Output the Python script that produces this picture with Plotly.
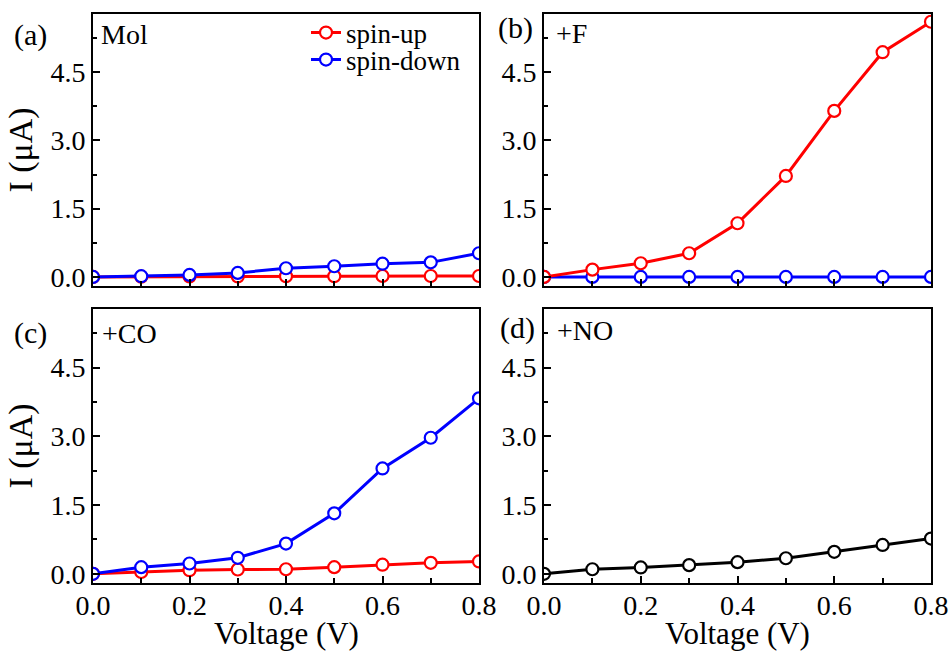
import plotly.graph_objects as go
from plotly.subplots import make_subplots

voltage = [0.0, 0.1, 0.2, 0.3, 0.4, 0.5, 0.6, 0.7, 0.8]

mol_up = [0.0, 0.005, 0.01, 0.01, 0.015, 0.015, 0.02, 0.02, 0.02]
mol_down = [0.0, 0.015, 0.044, 0.088, 0.19, 0.234, 0.29, 0.32, 0.52]

f_up = [0.0, 0.16, 0.30, 0.52, 1.18, 2.22, 3.65, 4.94, 5.61]
f_down = [0.0, 0.0, 0.0, 0.0, 0.0, 0.0, 0.0, 0.0, 0.0]

co_up = [0.0, 0.04, 0.08, 0.095, 0.10, 0.146, 0.20, 0.24, 0.27]
co_down = [0.0, 0.146, 0.226, 0.35, 0.66, 1.32, 2.30, 2.97, 3.83]

no_total = [0.0, 0.10, 0.14, 0.19, 0.255, 0.34, 0.48, 0.63, 0.77]

panel_letters = ["(a)", "(b)", "(c)", "(d)"]
panel_names = ["Mol", "+F", "+CO", "+NO"]
y_ticks = [0.0, 1.5, 3.0, 4.5]
x_ticks = [0.0, 0.2, 0.4, 0.6, 0.8]
x_title = "Voltage (V)"
y_title = "I (μA)"

RED = "#FF0000"
BLUE = "#0000FF"
BLACK = "#000000"
FONT = "Liberation Serif"

fig = make_subplots(rows=2, cols=2)

def add(row, col, y, color, name, show, legend="legend"):
    fig.add_trace(
        go.Scatter(
            x=voltage, y=y, mode="lines+markers", name=name,
            line=dict(color=color, width=3),
            marker=dict(symbol="circle", size=12, color="white",
                        line=dict(color=color, width=2.2)),
            showlegend=show, legendgroup=name, legend=legend,
        ),
        row=row, col=col,
    )

add(1, 1, mol_up, RED, "spin-up", True, "legend")
add(1, 1, mol_down, BLUE, "spin-down", True, "legend2")
add(1, 2, f_down, BLUE, "spin-down", False)
add(1, 2, f_up, RED, "spin-up", False)
add(2, 1, co_up, RED, "spin-up", False)
add(2, 1, co_down, BLUE, "spin-down", False)
add(2, 2, no_total, BLACK, "total", False)

W, H = 950, 653
xdom = [[93 / W, 479 / W], [544 / W, 931 / W]]
ydom = [[1 - 286 / H, 1 - 14 / H], [1 - 583 / H, 1 - 309 / H]]

for r in (1, 2):
    for c in (1, 2):
        fig.update_xaxes(
            row=r, col=c, domain=xdom[c - 1], range=[0, 0.8], automargin=False,
            tickvals=x_ticks, tickformat=".1f",
            showticklabels=(r == 2), ticklabelstandoff=-4,
            ticks="inside", ticklen=7, tickwidth=2, tickcolor="black",
            minor=dict(ticks="inside", ticklen=5, tickwidth=2, dtick=0.1, tick0=0, tickcolor="black"),
            showline=True, linecolor="black", linewidth=2, mirror=True,
            showgrid=False, zeroline=False,
            tickfont=dict(family=FONT, size=28, color="black"),
        )
        fig.update_yaxes(
            row=r, col=c, domain=ydom[r - 1], range=[-0.2, 5.78], automargin=False,
            tickvals=y_ticks, tickformat=".1f",
            ticks="inside", ticklen=7, tickwidth=2, tickcolor="black",
            minor=dict(ticks="inside", ticklen=4, tickwidth=2, dtick=0.75, tick0=0, tickcolor="black"),
            showline=True, linecolor="black", linewidth=2, mirror=True,
            showgrid=False, zeroline=False,
            tickfont=dict(family=FONT, size=28, color="black"),
            title=dict(text=y_title if c == 1 else "",
                       font=dict(family=FONT, size=34, color="black"), standoff=8),
        )

# x-axis titles under the bottom row
for c in (1, 2):
    xc = (xdom[c - 1][0] + xdom[c - 1][1]) / 2
    fig.add_annotation(x=xc, y=1 - 633 / H, xref="paper", yref="paper",
                       text=x_title, showarrow=False, xanchor="center", yanchor="middle",
                       font=dict(family=FONT, size=31, color="black"))

letter_pos = [(12, 35), (496, 28), (12, 333), (498, 328)]
name_pos = [(99, 34), (554, 33), (100, 333), (555, 330)]
for i in range(4):
    lx, ly = letter_pos[i]
    nx, ny = name_pos[i]
    fig.add_annotation(x=lx / W, y=1 - ly / H, xref="paper", yref="paper",
                       text=panel_letters[i], showarrow=False, xanchor="left", yanchor="middle",
                       font=dict(family=FONT, size=30, color="black"))
    fig.add_annotation(x=nx / W, y=1 - ny / H, xref="paper", yref="paper",
                       text=panel_names[i], showarrow=False, xanchor="left", yanchor="middle",
                       font=dict(family=FONT, size=28, color="black"))

leg_common = dict(xanchor="left", yanchor="middle", bgcolor="rgba(0,0,0,0)",
                  font=dict(family=FONT, size=27, color="black"),
                  tracegroupgap=0, itemwidth=30)
fig.update_layout(
    width=W, height=H,
    margin=dict(l=0, r=0, t=0, b=0),
    paper_bgcolor="white", plot_bgcolor="white",
    showlegend=True,
    legend=dict(x=306 / W, y=1 - 33 / H, **leg_common),
    legend2=dict(x=306 / W, y=1 - 60 / H, **leg_common),
)

fig.write_html("out.html", config={"displayModeBar": False},
               post_script="document.body.style.margin='0';document.body.style.padding='0';")
